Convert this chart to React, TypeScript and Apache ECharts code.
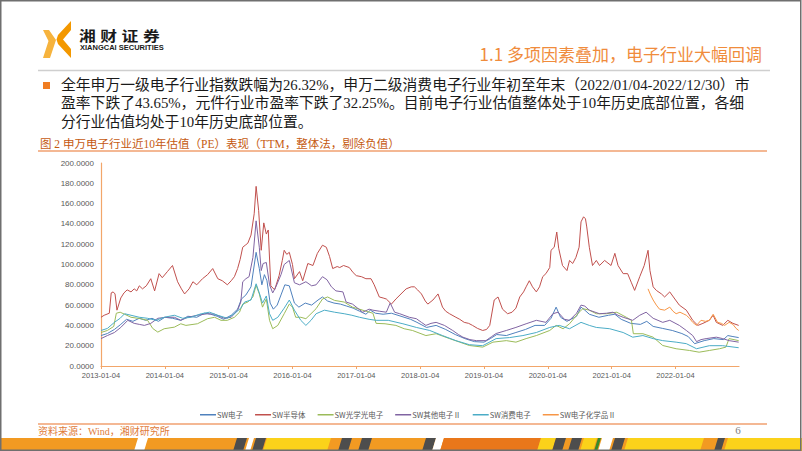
import React, { useEffect, useRef } from 'react';
import * as echarts from 'echarts';

// ---------- data ----------
const seriesNames = ['SW电子', 'SW半导体', 'SW光学光电子', 'SW其他电子Ⅱ', 'SW消费电子', 'SW电子化学品Ⅱ'];
const seriesColors = ['#4F81BD', '#C0504D', '#9BBB59', '#8064A2', '#4BACC6', '#F79646'];
const xTickLabels = ['2013-01-04', '2014-01-04', '2015-01-04', '2016-01-04', '2017-01-04', '2018-01-04', '2019-01-04', '2020-01-04', '2021-01-04', '2022-01-04'];

// [decimal year, PE]
const electronicsPE = [[2013.00,30],[2013.10,32],[2013.21,36],[2013.31,41],[2013.40,46],[2013.50,44],[2013.60,47],[2013.70,45],[2013.80,47],[2013.90,44],[2014.00,48],[2014.12,47],[2014.25,45],[2014.36,49],[2014.50,48],[2014.62,52],[2014.72,51],[2014.82,49],[2014.92,46],[2015.04,50],[2015.14,56],[2015.20,66],[2015.27,70],[2015.35,78],[2015.43,112],[2015.48,96],[2015.52,80],[2015.56,90],[2015.60,84],[2015.65,62],[2015.70,56],[2015.76,60],[2015.82,70],[2015.88,80],[2015.95,79],[2016.03,62],[2016.10,58],[2016.20,62],[2016.30,60],[2016.40,65],[2016.47,68],[2016.55,64],[2016.65,62],[2016.75,61],[2016.85,59],[2016.95,57],[2017.05,54],[2017.15,51],[2017.22,55],[2017.30,52],[2017.42,51],[2017.55,52],[2017.70,49],[2017.85,46],[2017.95,43],[2018.10,38],[2018.25,40],[2018.40,36],[2018.55,31],[2018.70,27],[2018.85,24],[2019.00,23.5],[2019.10,27],[2019.20,31],[2019.35,30],[2019.50,33],[2019.65,36],[2019.80,40],[2019.95,40],[2020.05,47],[2020.13,58],[2020.20,48],[2020.30,44],[2020.45,49],[2020.52,58],[2020.58,55],[2020.65,51],[2020.80,48],[2020.95,50],[2021.05,51],[2021.15,46],[2021.30,42],[2021.45,41],[2021.55,44],[2021.65,39],[2021.80,37],[2021.95,35],[2022.10,32],[2022.20,29],[2022.30,22],[2022.45,25],[2022.60,27],[2022.75,26],[2022.82,30],[2022.90,29],[2022.99,28]];

const semiconductorPE = [[2013.00,48],[2013.05,50],[2013.13,52],[2013.16,72],[2013.19,73],[2013.22,71],[2013.25,55],[2013.31,67],[2013.36,72],[2013.41,75],[2013.47,73],[2013.52,76],[2013.56,74],[2013.60,79],[2013.65,76],[2013.71,79],[2013.78,86],[2013.84,74],[2013.91,91],[2013.96,87],[2014.04,93],[2014.12,99],[2014.20,83],[2014.26,76],[2014.31,71],[2014.38,76],[2014.44,83],[2014.50,80],[2014.59,86],[2014.67,90],[2014.75,96],[2014.83,86],[2014.90,84],[2014.98,80],[2015.04,84],[2015.09,88],[2015.14,96],[2015.18,105],[2015.22,117],[2015.26,119],[2015.30,121],[2015.35,129],[2015.40,150],[2015.43,177],[2015.47,153],[2015.51,114],[2015.55,141],[2015.59,130],[2015.62,134],[2015.66,79],[2015.72,75],[2015.79,89],[2015.84,104],[2015.87,114],[2015.91,110],[2015.95,112],[2016.00,100],[2016.03,86],[2016.11,93],[2016.16,84],[2016.24,101],[2016.32,99],[2016.39,111],[2016.47,119],[2016.53,117],[2016.58,108],[2016.63,96],[2016.70,98],[2016.74,97],[2016.80,99],[2016.89,97],[2016.95,92],[2017.00,89],[2017.08,88],[2017.15,86],[2017.23,86],[2017.28,80],[2017.36,68],[2017.42,67],[2017.47,66],[2017.55,61],[2017.62,66],[2017.70,71],[2017.78,76],[2017.86,78],[2017.91,78],[2017.96,75],[2018.02,71],[2018.08,64],[2018.12,61],[2018.20,65],[2018.28,71],[2018.35,58],[2018.40,54],[2018.46,51.5],[2018.56,48],[2018.62,46],[2018.69,43],[2018.76,42],[2018.82,40],[2018.90,37],[2018.98,35],[2019.04,36],[2019.09,40],[2019.16,65],[2019.22,68],[2019.29,56],[2019.37,51.5],[2019.44,53],[2019.50,57],[2019.56,68],[2019.62,73],[2019.66,78],[2019.71,84],[2019.76,78],[2019.82,73],[2019.87,78],[2019.92,88],[2019.97,91],[2020.03,97],[2020.05,114],[2020.10,117],[2020.14,132],[2020.17,116],[2020.23,99],[2020.30,94],[2020.34,104],[2020.39,101],[2020.44,107],[2020.49,117],[2020.52,142],[2020.56,147],[2020.59,145],[2020.61,137],[2020.65,117],[2020.70,99],[2020.76,104],[2020.81,99],[2020.89,104],[2020.99,99],[2021.05,111],[2021.10,99],[2021.18,91],[2021.25,91],[2021.31,82],[2021.36,74.5],[2021.44,88],[2021.51,99],[2021.57,114],[2021.60,94],[2021.65,78],[2021.70,74.5],[2021.78,71],[2021.83,68],[2021.91,73],[2021.99,66],[2022.06,60],[2022.17,55],[2022.27,45],[2022.35,40],[2022.43,42],[2022.53,45],[2022.59,50],[2022.64,43],[2022.74,40],[2022.82,45],[2022.90,42],[2022.99,40]];

const optoelectronicsPE = [[2013.00,33],[2013.10,35],[2013.20,39],[2013.24,52],[2013.30,53],[2013.37,51],[2013.47,48],[2013.62,46.6],[2013.73,45],[2013.81,37],[2013.89,33.4],[2013.99,36.7],[2014.15,38.3],[2014.25,41.6],[2014.33,40],[2014.51,41.6],[2014.67,46.6],[2014.78,48],[2014.88,45],[2014.98,45],[2015.09,48],[2015.17,53],[2015.22,61],[2015.30,63],[2015.38,68],[2015.43,79.5],[2015.48,71],[2015.53,58],[2015.59,66],[2015.64,45],[2015.69,36.7],[2015.77,40],[2015.87,51.5],[2015.95,61],[2016.00,58],[2016.05,48],[2016.13,48],[2016.21,46.6],[2016.29,51.5],[2016.37,56.5],[2016.47,66],[2016.55,68],[2016.66,64.6],[2016.81,63],[2016.94,58],[2017.05,56],[2017.15,54],[2017.26,52],[2017.31,42],[2017.45,41.6],[2017.62,40],[2017.75,36.7],[2017.88,35],[2018.09,30],[2018.25,31.8],[2018.46,27],[2018.62,23.5],[2018.77,20.2],[2018.98,18.6],[2019.14,23.5],[2019.35,25],[2019.50,23.5],[2019.66,27],[2019.82,30],[2020.03,35],[2020.13,40],[2020.24,36.7],[2020.34,41.6],[2020.49,53],[2020.55,56.5],[2020.65,55],[2020.76,51.5],[2020.92,51.5],[2021.08,53],[2021.23,48],[2021.31,45],[2021.34,31.8],[2021.49,31.8],[2021.65,28.4],[2021.80,20.2],[2022.01,17],[2022.22,15.3],[2022.37,13.6],[2022.53,15.3],[2022.69,17],[2022.79,18.6],[2022.84,27],[2022.99,25]];

const otherElectronicsPE = [[2013.00,27],[2013.10,30],[2013.21,33],[2013.31,38],[2013.42,45],[2013.52,42],[2013.60,41],[2013.68,40],[2013.78,42],[2013.89,47],[2014.02,48],[2014.15,48],[2014.25,45],[2014.36,48],[2014.51,50],[2014.67,51.5],[2014.78,51],[2014.93,47],[2015.04,48],[2015.14,55],[2015.19,63],[2015.22,83],[2015.27,86],[2015.32,88],[2015.38,107],[2015.43,143],[2015.48,117],[2015.51,94],[2015.54,101],[2015.59,102],[2015.64,80],[2015.69,72],[2015.74,78],[2015.82,90],[2015.87,100],[2015.95,104],[2016.03,82],[2016.11,80],[2016.21,83],[2016.30,79],[2016.37,80],[2016.47,88],[2016.54,85],[2016.61,78],[2016.68,74],[2016.79,73],[2016.84,63],[2016.94,61],[2017.02,57],[2017.10,53],[2017.20,56],[2017.26,55],[2017.36,54],[2017.47,53],[2017.53,62],[2017.60,53],[2017.68,51.5],[2017.83,48],[2017.94,46.6],[2018.02,43],[2018.09,40],[2018.17,42],[2018.25,43],[2018.38,40],[2018.51,35],[2018.60,31],[2018.67,28.4],[2018.78,26],[2018.88,25],[2019.03,25],[2019.12,29],[2019.19,32],[2019.35,35],[2019.50,38],[2019.66,41.6],[2019.82,45],[2019.97,43],[2020.08,51.5],[2020.16,53],[2020.26,46],[2020.34,45],[2020.45,52],[2020.52,60],[2020.58,59],[2020.65,55],[2020.81,51.5],[2020.92,52],[2021.02,53],[2021.10,50],[2021.18,48],[2021.33,45],[2021.44,50],[2021.54,53],[2021.65,47],[2021.80,43],[2021.91,45],[2022.06,40],[2022.17,35],[2022.27,30],[2022.33,24],[2022.40,26],[2022.48,27],[2022.64,28.4],[2022.74,27],[2022.84,25],[2022.99,23.5]];

const consumerElectronicsPE = [[2013.00,35],[2013.10,37],[2013.21,43],[2013.30,47],[2013.37,51.5],[2013.47,50],[2013.60,48],[2013.73,47],[2013.86,45],[2013.99,48],[2014.15,50],[2014.28,47],[2014.41,48],[2014.57,51.5],[2014.70,53],[2014.83,50],[2014.98,47],[2015.09,51.5],[2015.19,57],[2015.25,63],[2015.35,65],[2015.43,81],[2015.48,72],[2015.53,62],[2015.59,69],[2015.64,51.5],[2015.69,45],[2015.77,48],[2015.87,57],[2015.95,65],[2016.03,55],[2016.13,45],[2016.21,40],[2016.29,45],[2016.37,51.5],[2016.50,55],[2016.66,53],[2016.81,51.5],[2016.93,50],[2017.05,48],[2017.20,46],[2017.31,45],[2017.50,45],[2017.73,41.6],[2017.94,38],[2018.15,35],[2018.35,30],[2018.56,25],[2018.77,21],[2018.98,20],[2019.19,27],[2019.40,28],[2019.61,30],[2019.82,33],[2020.03,38],[2020.18,40],[2020.34,36.7],[2020.52,43],[2020.65,40],[2020.76,38],[2020.97,36.7],[2021.18,33],[2021.33,28.4],[2021.49,30],[2021.65,27],[2021.80,25],[2022.01,23.5],[2022.17,22],[2022.33,17],[2022.53,20],[2022.74,20],[2022.99,18]];

const chemicalsPE = [[2021.57,76],[2021.61,70],[2021.65,65],[2021.70,60],[2021.75,56],[2021.83,55],[2021.91,58],[2021.96,54],[2022.01,51.5],[2022.07,53],[2022.12,51.5],[2022.17,50],[2022.22,47],[2022.27,43],[2022.33,40],[2022.40,45],[2022.47,44],[2022.53,45],[2022.59,51],[2022.66,43],[2022.72,42],[2022.77,40],[2022.84,43],[2022.90,41],[2022.95,37],[2022.99,35]];

const seriesData = [electronicsPE, semiconductorPE, optoelectronicsPE, otherElectronicsPE, consumerElectronicsPE, chemicalsPE];

const pageTitle = '1.1 多项因素叠加，电子行业大幅回调';
const bodyLines = [
  '全年申万一级电子行业指数跌幅为26.32%，申万二级消费电子行业年初至年末（2022/01/04-2022/12/30）市',
  '盈率下跌了43.65%，元件行业市盈率下跌了32.25%。目前电子行业估值整体处于10年历史底部位置，各细',
  '分行业估值均处于10年历史底部位置。',
];
const chartTitle = '图 2 申万电子行业近10年估值（PE）表现（TTM，整体法，剔除负值）';
const sourceText = '资料来源：Wind，湘财研究所';
const pageNumber = '6';
const logoChars = ['湘', '财', '证', '券'];
const logoEnglish = 'XIANGCAI SECURITIES';

const CJK = '"Noto Sans CJK SC"';
const SERIF = '"Liberation Serif", "Noto Sans CJK SC"';

// decorative footer band pieces: [x, width, colour]
const bandPieces: [number, number, string][] = [
  [134, 10, '#ffffff'], [233, 10, '#4D4D4D'], [245, 5, '#ffffff'], [252, 10, '#4D4D4D'],
  [263, 64, '#FBD21A'], [338, 10, '#4D4D4D'], [358, 10, '#4D4D4D'], [422, 10, '#4D4D4D'],
  [432, 8, '#ffffff'], [440, 97, '#E9771A'], [537, 15, '#FBD21A'], [552, 10, '#4D4D4D'],
  [568, 10, '#4D4D4D'], [580, 13, '#FBD21A'], [594, 3, '#3a8a2a'], [598, 11, '#ffffff'],
  [611, 10, '#4D4D4D'], [624, 76, '#FBD21A'], [714, 7, '#4D4D4D'], [724, 80, '#FBD21A'],
];

export default function App() {
  const ref = useRef<HTMLDivElement>(null);
  useEffect(() => {
    document.documentElement.style.overflow = 'hidden';
    document.body.style.overflow = 'hidden';
    document.body.style.margin = '0';
    if (!ref.current) return;
    const chart = echarts.init(ref.current, undefined, { renderer: 'svg' });

    const band: any[] = [
      { type: 'rect', shape: { x: 1, y: 438, width: 800, height: 13 }, style: { fill: '#F29A22' }, silent: true, z: 9 },
      ...bandPieces.map(([x, w, c]) => ({
        type: 'polygon',
        shape: { points: [[x + 4, 438], [x + 4 + w, 438], [x + w, 451], [x, 451]] },
        style: { fill: c },
        silent: true,
        z: 10,
      })),
    ];

    const graphics: any[] = [
      // logo icon
      { type: 'polygon', shape: { points: [[43, 30], [49, 30], [56, 40], [50, 58], [43, 58], [48.5, 41]] }, style: { fill: '#F6B33D' }, silent: true },
      { type: 'polygon', shape: { points: [[71, 21], [71, 30], [63, 39.5], [71, 49], [71, 58], [58, 44], [56.5, 39.5], [58, 35]] }, style: { fill: '#F39800' }, silent: true },
      ...logoChars.map((c, i) => ({
        type: 'text', x: 79 + i * 21.3, y: 34.5, scaleX: 1.2,
        style: { text: c, x: 0, y: 0, font: `bold 14px ${CJK}`, fill: '#1a1a1a', textAlign: 'left', textVerticalAlign: 'middle' },
        silent: true,
      })),
      { type: 'text', style: { text: logoEnglish, x: 80, y: 47.5, font: 'bold 7.5px "Liberation Sans"', fill: '#1a1a1a', textAlign: 'left', textVerticalAlign: 'middle' }, silent: true },
      // page title and rule
      { type: 'text', style: { text: pageTitle, x: 762, y: 53.5, font: `17px ${CJK}`, fill: '#F08C3C', textAlign: 'right', textVerticalAlign: 'middle' }, silent: true },
      { type: 'line', shape: { x1: 38, y1: 70.5, x2: 770, y2: 70.5 }, style: { stroke: '#CFCFCF', lineWidth: 1.5 }, silent: true },
      // bullet text
      { type: 'rect', shape: { x: 43, y: 82, width: 7, height: 7 }, style: { fill: '#F07D22' }, silent: true },
      ...bodyLines.map((t, i) => ({
        type: 'text',
        style: { text: t, x: 61, y: 85 + i * 18.3, font: `14.8px ${SERIF}`, fill: '#1a1a1a', textAlign: 'left', textVerticalAlign: 'middle' },
        silent: true,
      })),
      // chart caption
      { type: 'text', style: { text: chartTitle, x: 40, y: 144, font: `11.5px ${SERIF}`, fill: '#C55A11', textAlign: 'left', textVerticalAlign: 'middle' }, silent: true },
      { type: 'line', shape: { x1: 38, y1: 151, x2: 767, y2: 151 }, style: { stroke: '#F0A070', lineWidth: 1.5 }, silent: true },
      // footer
      { type: 'line', shape: { x1: 38, y1: 424, x2: 767, y2: 424 }, style: { stroke: '#F0A070', lineWidth: 1.5 }, silent: true },
      { type: 'text', style: { text: sourceText, x: 38, y: 431, font: `10px ${SERIF}`, fill: '#E07B39', textAlign: 'left', textVerticalAlign: 'middle' }, silent: true },
      { type: 'text', style: { text: pageNumber, x: 738, y: 430, font: '11px "Liberation Serif"', fill: '#7f7f7f', textAlign: 'center', textVerticalAlign: 'middle' }, silent: true },
      ...band,
      // slide frame
      { type: 'rect', shape: { x: 0.75, y: 0.75, width: 800, height: 449.5 }, style: { fill: 'none', stroke: '#6f6f6f', lineWidth: 1.5 }, silent: true, z: 20 },
    ];

    chart.setOption({
      animation: false,
      grid: { left: 101, right: 63, top: 163, bottom: 85, containLabel: false },
      legend: {
        data: seriesNames,
        left: 195,
        top: 406,
        icon: 'rect',
        itemWidth: 16,
        itemHeight: 1.5,
        itemGap: 12,
        textStyle: { fontSize: 7.5, color: '#595959', fontFamily: CJK, padding: [0, 0, 0, -4] },
      },
      xAxis: {
        type: 'value',
        min: 2013,
        max: 2022.995,
        interval: 1,
        splitLine: { show: false },
        axisLine: { show: true, lineStyle: { color: '#F2A66A', width: 1.2 } },
        axisTick: { show: true, length: 3, lineStyle: { color: '#F2A66A' } },
        axisLabel: {
          margin: 5,
          fontSize: 7.5,
          color: '#595959',
          fontFamily: '"Liberation Sans Narrow", "Liberation Sans"',
          showMaxLabel: false,
          formatter: (v: number) => xTickLabels[Math.round(v - 2013)] || '',
        },
      },
      yAxis: {
        type: 'value',
        min: 0,
        max: 200,
        interval: 20,
        splitLine: { show: false },
        axisLine: { show: true, lineStyle: { color: '#F2A66A', width: 1.2 } },
        axisTick: { show: false },
        axisLabel: {
          margin: 7,
          fontSize: 8,
          color: '#595959',
          fontFamily: '"Liberation Sans Narrow", "Liberation Sans"',
          formatter: (v: number) => v.toFixed(4),
        },
      },
      series: seriesNames.map((name, i) => ({
        name,
        type: 'line',
        data: seriesData[i],
        showSymbol: false,
        symbol: 'none',
        color: seriesColors[i],
        lineStyle: { width: 1, color: seriesColors[i] },
        z: 2,
      })),
      graphic: { elements: graphics },
    });
    return () => chart.dispose();
  }, []);
  return (
    <div
      ref={ref}
      style={{ position: 'fixed', left: 0, top: 0, width: 802, height: 451, background: '#ffffff', overflow: 'hidden' }}
    />
  );
}
